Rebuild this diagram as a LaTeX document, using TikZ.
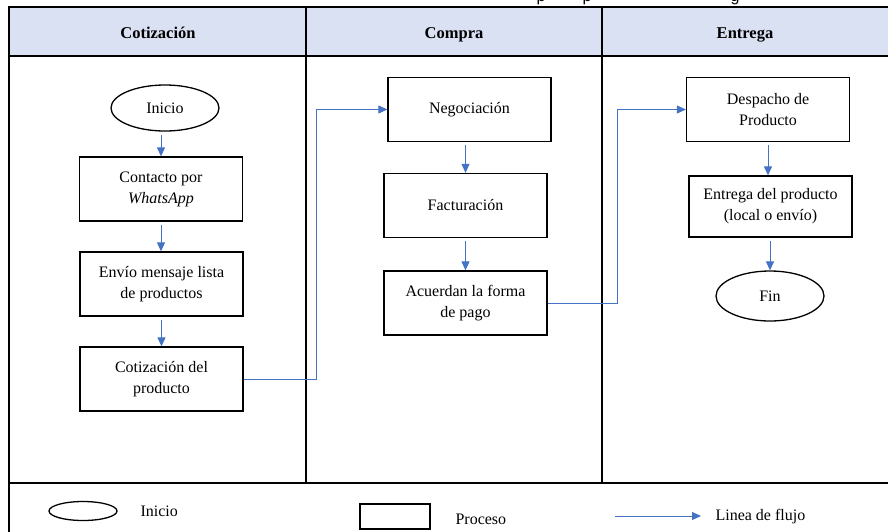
\documentclass[tikz,border=0pt]{standalone}
\usepackage{fontspec}
\setmainfont{Liberation Serif}
\newfontfamily\capfont{Liberation Sans}
\usetikzlibrary{arrows.meta,shapes.geometric}
\definecolor{flowc}{HTML}{4472C4}
\definecolor{headc}{HTML}{D9E1F2}

\begin{document}
\begin{tikzpicture}[x=1pt,y=-1pt,
  txt/.style={font=\fontsize{16}{21}\selectfont, align=center},
  hdr/.style={font=\fontsize{16.5}{20}\selectfont\bfseries, anchor=base},
  proc/.style={txt, draw, line width=1.3pt, minimum width=163pt, minimum height=64pt, inner sep=2pt},
  term/.style={txt, draw, ellipse, line width=1.3pt, minimum width=108pt, minimum height=46pt, inner sep=0pt},
  flow/.style={draw=flowc, line width=1pt, -{Triangle[length=9pt,width=8pt]}},
  lane/.style={line width=2pt},
  ]
\useasboundingbox (0,0) rectangle (888,531);
\clip (0,0) rectangle (888,531);

% caption line above the table, cut off by the page edge
\begin{scope}[font=\capfont\fontsize{16}{16}\selectfont]
  \node[anchor=base, inner sep=0pt] (capa) at (541,1) {p};
  \node[anchor=base, inner sep=0pt] (capb) at (587,1) {p};
  \node[anchor=base, inner sep=0pt] (capc) at (735,1) {g};
\end{scope}

% swimlane table
\fill[headc] (9,7) rectangle (900,56);
\draw[lane] (9,7) -- (900,7);
\draw[lane] (9,56) -- (900,56);
\draw[lane] (9,6) -- (9,540);
\draw[lane] (306,7) -- (306,483);
\draw[lane] (602,7) -- (602,483);
\draw[lane] (9,483) -- (900,483);

\node[hdr] (hcot) at (158,38) {Cotización};
\node[hdr] (hcom) at (454,38) {Compra};
\node[hdr] (hent) at (745,38) {Entrega};

% Cotización lane
\node[term] (inicio) at (165,108) {Inicio};
\node[proc] (contacto) at (161,189) {Contacto por\\\textit{WhatsApp}};
\node[proc] (envio) at (161.5,284) {Envío mensaje lista\\de productos};
\node[proc] (cotiz) at (161.5,379) {Cotización del\\producto};

% Compra lane
\node[proc] (neg) at (469.5,109.5) {Negociación};
\node[proc] (fact) at (465.5,205.5) {Facturación};
\node[proc] (acu) at (465.5,303) {Acuerdan la forma\\de pago};

% Entrega lane
\node[proc] (desp) at (768,109.5) {Despacho de\\Producto};
\node[proc, minimum height=61pt] (entr) at (770.5,206.5) {Entrega del producto\\(local o envío)};
\node[term, minimum height=50pt] (fin) at (770,296) {Fin};

% flow lines
\draw[flow, shorten <=3pt] (contacto.north |- inicio.south) -- (contacto.north);
\draw[flow, shorten <=3pt] (contacto.south) -- (envio.north -| contacto.south);
\draw[flow, shorten <=3pt] (envio.south) -- (cotiz.north);
\draw[flow, shorten <=3pt] (neg.south -| fact.north) -- (fact.north);
\draw[flow, shorten <=3pt] (fact.south) -- (acu.north);
\draw[flow, shorten <=3pt] (desp.south) -- (entr.north -| desp.south);
\draw[flow, shorten <=3pt] (entr.south -| fin.north) -- (fin.north);

\coordinate (j1) at (316,0);
\coordinate (j2) at (617,0);
\draw[flow] (cotiz.east) -- (cotiz.east -| j1) -- (j1 |- neg.west) -- (neg.west);
\draw[flow] (acu.east) -- (acu.east -| j2) -- (j2 |- desp.west) -- (desp.west);

% legend
\node[draw, ellipse, line width=1.3pt, minimum width=68pt, minimum height=19pt, inner sep=0pt] (lgini) at (83,511) {};
\node[txt, anchor=west] (lginitxt) at (137,511) {Inicio};
\node[draw, line width=1.3pt, minimum width=70pt, minimum height=25pt, inner sep=0pt] (lgproc) at (395,516.5) {};
\node[txt, anchor=west] (lgproctxt) at (452,519) {Proceso};
\coordinate (lga) at (615,516);
\coordinate (lgb) at (701,516);
\draw[flow] (lga) -- (lgb);
\node[txt, anchor=west] (lgflowtxt) at (712,517) {Linea de flujo};
\end{tikzpicture}
\end{document}
